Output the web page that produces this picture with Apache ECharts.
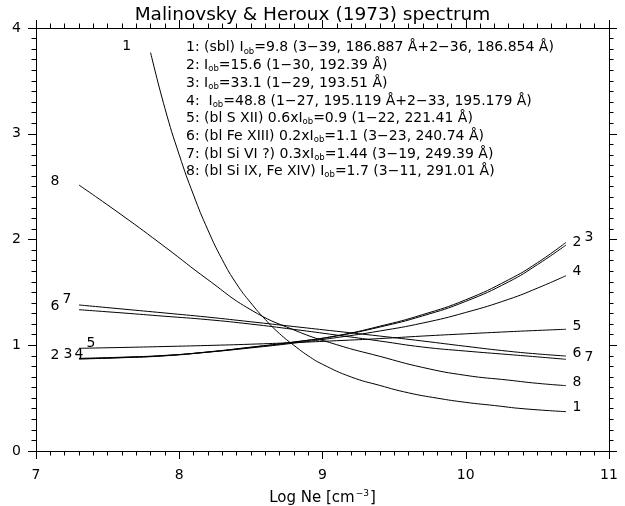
<!DOCTYPE html>
<html lang="en">
<head>
    <meta charset="UTF-8" />
    <title>Malinovsky & Heroux (1973) spectrum</title>
    <script src="https://cdn.jsdelivr.net/npm/echarts@6/dist/echarts.min.js"></script>
    <style type="text/css">
        html, body { margin: 0; padding: 0; background: #fff; overflow: hidden; }
        #chart { width: 625px; height: 506px; }
    </style>
</head>
<body>
    <div id="chart"></div>
    <script type="text/javascript">
        // log Ne grid used for curves 2-8
        var logNe = [7.3, 7.6, 7.9, 8.2, 8.5, 8.8, 9.1, 9.4, 9.7, 10.0, 10.3, 10.5, 10.7];
        // curve 1 starts later, sampled more finely
        var logNe1 = [7.8, 7.9, 8.0, 8.1, 8.2, 8.3, 8.4, 8.5, 8.6, 8.7, 8.8, 8.9, 9.0, 9.2, 9.4, 9.6, 9.8, 10.0, 10.2, 10.4, 10.7];

        var curve1 = [3.767, 3.24, 2.80, 2.42, 2.09, 1.81, 1.58, 1.40, 1.245, 1.11, 1.00, 0.90, 0.82, 0.70, 0.62, 0.55, 0.50, 0.46, 0.43, 0.40, 0.372];
        var curve2 = [0.870, 0.882, 0.900, 0.935, 0.980, 1.030, 1.090, 1.180, 1.290, 1.430, 1.620, 1.780, 1.973];
        var curve3 = [0.872, 0.884, 0.902, 0.937, 0.982, 1.030, 1.088, 1.172, 1.278, 1.415, 1.600, 1.762, 1.948];
        var curve4 = [0.876, 0.887, 0.904, 0.935, 0.975, 1.020, 1.073, 1.135, 1.210, 1.310, 1.435, 1.540, 1.658];
        var curve5 = [0.971, 0.979, 0.988, 0.998, 1.010, 1.025, 1.043, 1.063, 1.087, 1.108, 1.128, 1.140, 1.151];
        var curve6 = [1.381, 1.343, 1.305, 1.266, 1.222, 1.177, 1.132, 1.087, 1.040, 0.990, 0.943, 0.918, 0.898];
        var curve7 = [1.336, 1.306, 1.274, 1.242, 1.200, 1.150, 1.096, 1.040, 0.983, 0.945, 0.912, 0.890, 0.867];
        var curve8 = [2.515, 2.230, 1.930, 1.620, 1.335, 1.145, 1.005, 0.895, 0.790, 0.715, 0.670, 0.640, 0.618];

        var xTicks = [7, 8, 9, 10, 11];
        var yTicks = [0, 1, 2, 3, 4];

        var legendLines = [
            ['1: (sbl) I', 'ob', '=9.8 (3\u221239, 186.887 \u00c5+2\u221236, 186.854 \u00c5)'],
            ['2: I', 'ob', '=15.6 (1\u221230, 192.39 \u00c5)'],
            ['3: I', 'ob', '=33.1 (1\u221229, 193.51 \u00c5)'],
            ['4:  I', 'ob', '=48.8 (1\u221227, 195.119 \u00c5+2\u221233, 195.179 \u00c5)'],
            ['5: (bl S XII) 0.6xI', 'ob', '=0.9 (1\u221222, 221.41 \u00c5)'],
            ['6: (bl Fe XIII) 0.2xI', 'ob', '=1.1 (3\u221223, 240.74 \u00c5)'],
            ['7: (bl Si VI ?) 0.3xI', 'ob', '=1.44 (3\u221219, 249.39 \u00c5)'],
            ['8: (bl Si IX, Fe XIV) I', 'ob', '=1.7 (3\u221211, 291.01 \u00c5)']
        ];

        var FONT = '"DejaVu Sans", "Liberation Sans", sans-serif';

        function pairs(xs, ys) {
            var out = [];
            for (var i = 0; i < xs.length; i++) out.push([xs[i], ys[i]]);
            return out;
        }

        var curves = [
            { name: '1', x: logNe1, y: curve1 },
            { name: '2', x: logNe, y: curve2 },
            { name: '3', x: logNe, y: curve3 },
            { name: '4', x: logNe, y: curve4 },
            { name: '5', x: logNe, y: curve5 },
            { name: '6', x: logNe, y: curve6 },
            { name: '7', x: logNe, y: curve7 },
            { name: '8', x: logNe, y: curve8 }
        ];

        var chart = echarts.init(document.getElementById('chart'), null, { renderer: 'canvas' });

        function axisBase(show) {
            return {
                type: 'value',
                axisLine: { show: true, onZero: false, lineStyle: { color: '#000', width: 1 } },
                axisTick: { show: true, inside: false, length: 8, lineStyle: { color: '#000' } },
                minorTick: { show: true, splitNumber: 10, length: 4.5, lineStyle: { color: '#000' } },
                splitLine: { show: false },
                minorSplitLine: { show: false },
                axisLabel: { show: show, color: '#000', fontSize: 14, fontFamily: FONT }
            };
        }

        var xBottom = axisBase(true);
        xBottom.position = 'bottom';
        xBottom.min = xTicks[0]; xBottom.max = xTicks[xTicks.length - 1]; xBottom.interval = 1;
        xBottom.axisLabel.margin = 17;
        xBottom.name = '{a|Log Ne [cm}{b|\u22123}{a|]}';
        xBottom.nameLocation = 'middle';
        xBottom.nameGap = 38;
        xBottom.nameTextStyle = {
            rich: {
                a: { fontSize: 15, fontFamily: FONT, color: '#000', lineHeight: 18 },
                b: { fontSize: 9, fontFamily: FONT, color: '#000', lineHeight: 18, padding: [0, 1, 8, 1] }
            }
        };
        var xTop = axisBase(false);
        xTop.position = 'top';
        xTop.min = xTicks[0]; xTop.max = xTicks[xTicks.length - 1]; xTop.interval = 1;

        var yLeft = axisBase(true);
        yLeft.position = 'left';
        yLeft.min = yTicks[0]; yLeft.max = yTicks[yTicks.length - 1]; yLeft.interval = 1;
        yLeft.axisLabel.margin = 15;
        var yRight = axisBase(false);
        yRight.position = 'right';
        yRight.min = yTicks[0]; yRight.max = yTicks[yTicks.length - 1]; yRight.interval = 1;

        var series = curves.map(function (c) {
            return {
                name: c.name,
                type: 'line',
                xAxisIndex: 0,
                yAxisIndex: 0,
                data: pairs(c.x, c.y),
                showSymbol: false,
                smooth: 0.5,
                silent: true,
                animation: false,
                lineStyle: { color: '#000', width: 1 }
            };
        });

        var option = {
            backgroundColor: '#fff',
            animation: false,
            title: {
                text: 'Malinovsky & Heroux (1973) spectrum',
                left: 'center',
                top: 1,
                textStyle: { color: '#000', fontSize: 18.5, fontWeight: 'normal', fontFamily: FONT }
            },
            grid: { left: 36, right: 16, top: 28, bottom: 55, containLabel: false, outerBoundsMode: 'none' },
            xAxis: [xBottom, xTop],
            yAxis: [yLeft, yRight],
            series: series
        };
        chart.setOption(option);

        // curve number labels, anchored on the curve ends
        var S = curves;
        function first(c) { return [c.x[0], c.y[0]]; }
        function last(c) { return [c.x[c.x.length - 1], c.y[c.y.length - 1]]; }
        var labelDefs = [
            { t: '1', at: first(S[0]), dx: -24, dy: -6 },
            { t: '8', at: first(S[7]), dx: -24, dy: -4 },
            { t: '6', at: first(S[5]), dx: -24, dy: 1 },
            { t: '7', at: first(S[6]), dx: -12, dy: -10 },
            { t: '2', at: first(S[1]), dx: -24, dy: -4 },
            { t: '3', at: first(S[2]), dx: -11, dy: -4 },
            { t: '4', at: first(S[3]), dx: 0, dy: -4 },
            { t: '5', at: first(S[4]), dx: 12, dy: -5 },
            { t: '2', at: last(S[1]), dx: 11, dy: 0 },
            { t: '3', at: last(S[2]), dx: 23, dy: -8 },
            { t: '4', at: last(S[3]), dx: 11, dy: -4 },
            { t: '5', at: last(S[4]), dx: 11, dy: -3 },
            { t: '6', at: last(S[5]), dx: 11, dy: -3 },
            { t: '7', at: last(S[6]), dx: 23, dy: -2 },
            { t: '8', at: last(S[7]), dx: 11, dy: -3 },
            { t: '1', at: last(S[0]), dx: 11, dy: -4 }
        ];

        var graphics = labelDefs.map(function (d) {
            var p = chart.convertToPixel({ xAxisIndex: 0, yAxisIndex: 0 }, d.at);
            return {
                type: 'text',
                x: p[0] + d.dx,
                y: p[1] + d.dy,
                silent: true,
                style: {
                    text: d.t,
                    fill: '#000',
                    font: '14px ' + FONT,
                    textAlign: 'center',
                    textVerticalAlign: 'middle'
                }
            };
        });

        // legend block with subscript "ob"
        var legendText = legendLines.map(function (l) {
            return '{n|' + l[0] + '}{s|' + l[1] + '}{n|' + l[2] + '}';
        }).join('\n');
        graphics.push({
            type: 'text',
            x: 186,
            y: 39,
            silent: true,
            style: {
                text: legendText,
                fill: '#000',
                rich: {
                    n: { fontSize: 14, fontFamily: FONT, color: '#000', lineHeight: 17.7 },
                    s: { fontSize: 8.5, fontFamily: FONT, color: '#000', lineHeight: 17.7, padding: [7, 0, 0, 0] }
                }
            }
        });

        chart.setOption({ graphic: graphics });
    </script>
</body>
</html>
